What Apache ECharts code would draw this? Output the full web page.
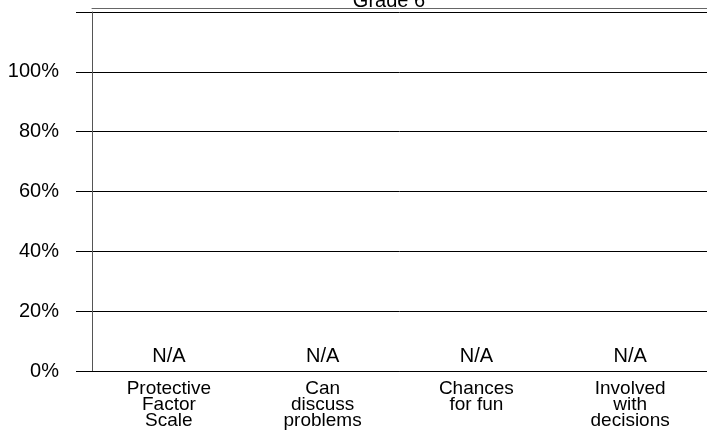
<!DOCTYPE html>
<html><head><meta charset="utf-8">
<script src="https://cdn.jsdelivr.net/npm/echarts@6/dist/echarts.min.js"></script>
<style>html,body{margin:0;padding:0;background:#fff}#c{width:707px;height:438px}</style>
</head><body><div id="c"></div>
<script>
const categories = ['Protective\nFactor\nScale', 'Can\ndiscuss\nproblems', 'Chances\nfor fun', 'Involved\nwith\ndecisions'];
const values = [0, 0, 0, 0];
const valueLabels = ['N/A', 'N/A', 'N/A', 'N/A'];
const titleText = 'Grade 6';

const chart = echarts.init(document.getElementById('c'), null, {renderer: 'canvas'});
const font = 'Arial, "Liberation Sans", sans-serif';
chart.setOption({
  animation: false,
  title: {text: titleText, left: 384, top: -14, textAlign: 'center',
    textStyle: {fontFamily: font, fontSize: 20, fontWeight: 'normal', color: '#000'}},
  grid: {left: 92, right: 0, top: 12, bottom: 67, containLabel: false},
  xAxis: [{
    type: 'category', data: categories,
    axisLine: {show: true, lineStyle: {color: '#000', width: 1}},
    axisTick: {show: false},
    axisLabel: {color: '#000', fontFamily: font, fontSize: 19, lineHeight: 16, margin: 10, interval: 0}
  }, {
    type: 'category', position: 'top', offset: 4, data: categories,
    axisLine: {show: true, lineStyle: {color: '#666', width: 1}},
    axisTick: {show: false}, axisLabel: {show: false}
  }],
  yAxis: {
    type: 'value', min: 0, max: 120, interval: 20,
    axisLine: {show: true, lineStyle: {color: '#555', width: 1}},
    axisTick: {show: true, length: 16, lineStyle: {color: '#000'}},
    axisLabel: {color: '#000', fontFamily: font, fontSize: 20, margin: 33,
      formatter: v => v >= 120 ? '' : v + '%'},
    splitLine: {show: true, lineStyle: {color: '#000', width: 1}}
  },
  series: [{
    type: 'bar', data: values, xAxisIndex: 0,
    itemStyle: {color: '#000'},
    label: {show: true, position: 'top', distance: 5, color: '#000', fontFamily: font, fontSize: 20,
      formatter: p => valueLabels[p.dataIndex]}
  }]
});
</script></body></html>
